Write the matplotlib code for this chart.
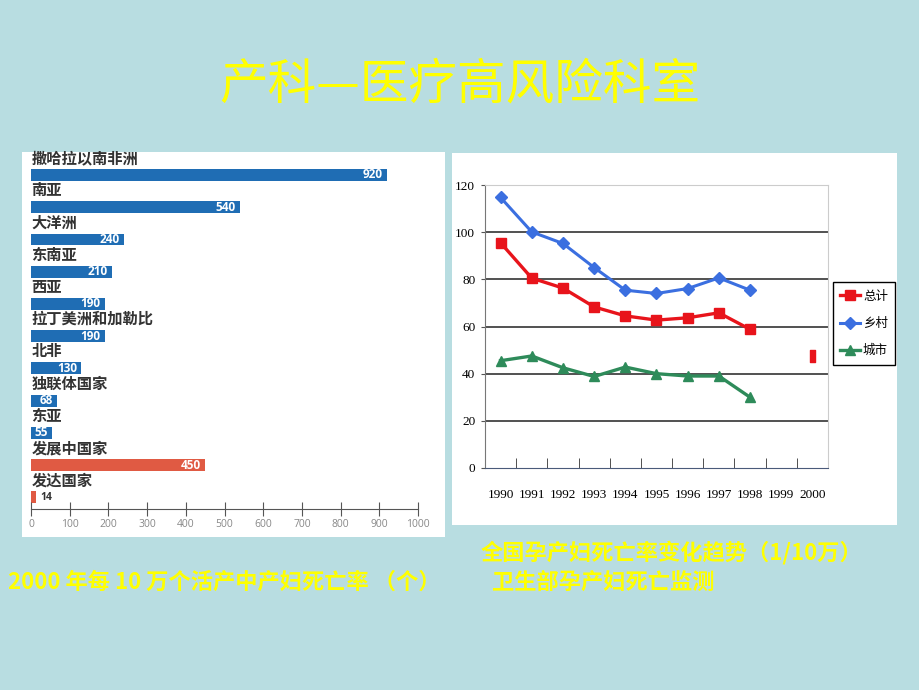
import numpy as np
import matplotlib
matplotlib.use('Agg')
import matplotlib.pyplot as plt
import matplotlib.patches as patches
from matplotlib.path import Path

plt.rcParams['font.family'] = ['Noto Sans CJK SC', 'DejaVu Sans']

# 左图：2000年每10万个活产中产妇死亡率
regions = ['撒哈拉以南非洲', '南亚', '大洋洲', '东南亚', '西亚', '拉丁美洲和加勒比',
           '北非', '独联体国家', '东亚', '发展中国家', '发达国家']
rates = [920, 540, 240, 210, 190, 190, 130, 68, 55, 450, 14]
region_type = ['地区'] * 9 + ['合计'] * 2

# 右图：全国孕产妇死亡率变化趋势（1/10万）
years = ['1990', '1991', '1992', '1993', '1994', '1995', '1996', '1997', '1998', '1999', '2000']
total = [95.5, 80.5, 76.3, 68.3, 64.5, 62.7, 63.7, 65.8, 58.8, np.nan, 47.6]
rural = [114.7, 100.1, 95.2, 85.0, 75.4, 74.0, 76.1, 80.6, 75.4, np.nan, np.nan]
urban = [45.5, 47.5, 42.5, 38.8, 42.8, 40.0, 39.0, 39.0, 30.0, np.nan, np.nan]

W, H = 920, 690
YELLOW = '#ffff00'


def px(x0, y0, x1, y1):
    return [x0 / W, 1 - y1 / H, (x1 - x0) / W, (y1 - y0) / H]


fig = plt.figure(figsize=(9.2, 6.9), dpi=100)
fig.patch.set_facecolor('#b8dde1')

# 白色底板
for box in (px(22, 152, 445, 537), px(452, 153, 897, 525)):
    fig.add_artist(patches.Rectangle((box[0], box[1]), box[2], box[3],
                                     transform=fig.transFigure,
                                     facecolor='white', edgecolor='none', zorder=0))

# 标题
fig.text(460 / W, 1 - 85 / H, '产科—医疗高风险科室', fontsize=35, color=YELLOW,
         ha='center', va='center')

# ---- 左图 横向条形图 ----
ax1 = fig.add_axes(px(31, 155, 418, 509))
ax1.set_facecolor('none')
ypos = np.arange(len(regions))
colors = ['#1f6db4' if t == '地区' else '#e05a43' for t in region_type]
ax1.barh(ypos, rates, height=0.37, color=colors)
ax1.set_xlim(0, 1000)
ax1.set_ylim(10.36, -0.62)
for i, (name, v) in enumerate(zip(regions, rates)):
    ax1.text(1, i - 0.53, name, fontsize=11, fontweight='bold', color='#333333',
             ha='left', va='center')
    if v > 40:
        ax1.annotate(str(v), (v, i), xytext=(-3, 0), textcoords='offset points',
                     ha='right', va='center', color='white', fontsize=8.5,
                     fontweight='bold', family=['Open Sans', 'DejaVu Sans'])
    else:
        ax1.annotate(str(v), (v, i), xytext=(3, 0), textcoords='offset points',
                     ha='left', va='center', color='#333333', fontsize=7.5,
                     fontweight='bold', family=['Open Sans', 'DejaVu Sans'])
for s in ('left', 'top', 'right'):
    ax1.spines[s].set_visible(False)
ax1.spines['bottom'].set_color('#555555')
ax1.set_yticks([])
ax1.set_xticks(range(0, 1001, 100))
ax1.tick_params(axis='x', direction='inout', length=10, color='#555555',
                labelsize=7.5, labelcolor='#888888', pad=2)
for lab in ax1.get_xticklabels():
    lab.set_family(['Open Sans', 'DejaVu Sans'])

# ---- 右图 折线图 ----
ax2 = fig.add_axes(px(485, 185, 828, 468))
ax2.set_facecolor('none')
x = np.arange(len(years))
ax2.plot(x, total, color='#e8141b', lw=2.4, marker='s', ms=7, markevery=list(range(9)),
         label='总计', zorder=3)
rect = Path([(-0.45, -1), (0.45, -1), (0.45, 1), (-0.45, 1), (-0.45, -1)],
            [Path.MOVETO, Path.LINETO, Path.LINETO, Path.LINETO, Path.CLOSEPOLY])
ax2.plot(x[-1:], total[-1:], ls='none', marker=rect, ms=8, color='#e8141b', zorder=3)
ax2.plot(x, rural, color='#3b6fe0', lw=2.2, marker='D', ms=6, label='乡村', zorder=3)
ax2.plot(x, urban, color='#2e8b5a', lw=2.4, marker='^', ms=7, label='城市', zorder=3)

ax2.set_xlim(-0.5, 10.5)
ax2.set_ylim(0, 120)
yt = list(range(0, 121, 20))
ax2.set_yticks(yt)
ax2.hlines(yt[1:-1], -0.5, 10.5, color='#333333', lw=1.2, zorder=1)
ax2.set_xticks(x)
ax2.set_xticklabels(years)
ax2.set_xticks(x[:-1] + 0.5, minor=True)
ax2.tick_params(axis='x', which='major', length=0, pad=15, labelsize=9.5)
ax2.tick_params(axis='x', which='minor', direction='in', length=7, color='#333333')
ax2.tick_params(axis='y', length=3, color='#555555', pad=4, labelsize=9.5)
for lab in ax2.get_xticklabels() + ax2.get_yticklabels():
    lab.set_family(['Liberation Serif', 'DejaVu Sans'])
ax2.spines['left'].set_color('#777777')
ax2.spines['bottom'].set_color('#4a5a7a')
ax2.spines['top'].set_color('#cccccc')
ax2.spines['right'].set_color('#cccccc')

leg = ax2.legend(loc='upper left', bbox_to_anchor=(833 / W, 1 - 282 / H),
                 bbox_transform=fig.transFigure, frameon=True, fancybox=False,
                 edgecolor='black', framealpha=1, fontsize=9, handlelength=1.6,
                 labelspacing=1.15, borderpad=0.6, handletextpad=0.2, borderaxespad=0)
leg.get_frame().set_linewidth(1)

# 说明文字
fig.text(671 / W, 1 - 553 / H, '全国孕产妇死亡率变化趋势（1/10万）', color=YELLOW,
         fontsize=16, fontweight='bold', ha='center', va='center')
fig.text(8 / W, 1 - 582 / H, '2000 年每 10 万个活产中产妇死亡率 （个）', color=YELLOW,
         fontsize=16, fontweight='bold', ha='left', va='center')
fig.text(492 / W, 1 - 582 / H, '卫生部孕产妇死亡监测', color=YELLOW,
         fontsize=16, fontweight='bold', ha='left', va='center')

fig.savefig('out.png', dpi=100, facecolor=fig.get_facecolor())
